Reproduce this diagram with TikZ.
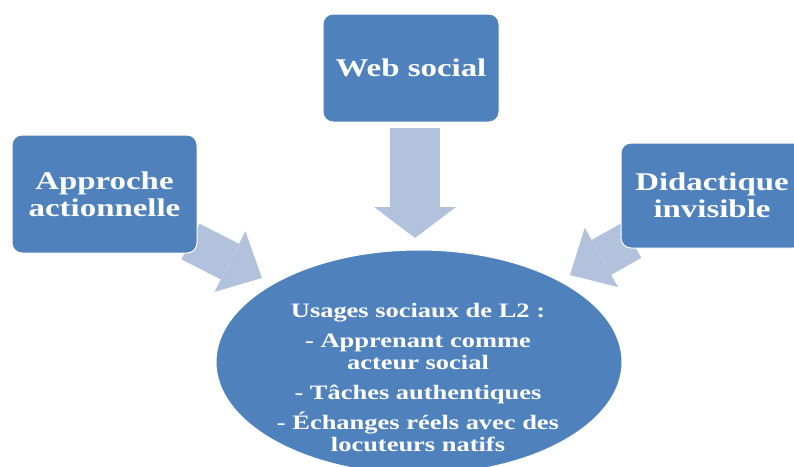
\documentclass[tikz,border=0pt]{standalone}
\usepackage{fontspec}
\usetikzlibrary{arrows.meta, shapes.geometric, backgrounds}
\newfontfamily\diagfont{Liberation Serif}[FakeStretch=1.29]
\definecolor{boxblue}{RGB}{79,129,189}
\definecolor{arrowblue}{RGB}{178,194,221}

\tikzset{
    sourcebox/.style = {rectangle, rounded corners = 10pt, fill = boxblue, draw = white, line width = 1pt,
        text = white, align = center, font = \diagfont\bfseries\fontsize{25.5}{27}\selectfont},
    bigarrow/.style = {draw = arrowblue, line width = 50pt,
        -{Triangle[length = 31pt 0 0, width = 82pt 0 0, line width = 0pt 0 0]}},
    sidearrow/.style = {draw = arrowblue, line width = 40pt,
        -{Triangle[length = 36pt 0 0, width = 68pt 0 0, line width = 0pt 0 0]}}
}

\begin{document}
\begin{tikzpicture}[x = 1pt, y = -1pt]
        \useasboundingbox (0, 0) rectangle (794, 466);

        % the three sources
        \node[sourcebox, minimum width = 176pt, minimum height = 108pt] (web) at (411, 68) {Web social};
        \node[sourcebox, minimum width = 185pt, minimum height = 118pt] (approche) at (104.5, 194) {Approche\\actionnelle};
        \node[sourcebox, minimum width = 182pt, minimum height = 105pt] (didactique) at (712, 195.5) {Didactique\\invisible};

        % the centre
        \node[ellipse, fill = boxblue, draw = white, line width = 1pt, minimum width = 406pt, minimum height = 224pt,
            inner sep = 0pt] (usages) at (419, 362) {};
        \node[text = white, align = center, font = \diagfont\bfseries\fontsize{20.5}{22}\selectfont] (usagestext) at (418, 378)
            {Usages sociaux de L2 :\\[8pt]
             - Apprenant comme\\acteur social\\[8pt]
             - Tâches authentiques\\[8pt]
             - Échanges réels avec des\\locuteurs natifs};

        \coordinate (webtip) at (415, 238);
        \coordinate (approchetip) at (262, 278);
        \coordinate (didactiquetip) at (570, 275);

        \begin{scope}[on background layer]
            \draw[bigarrow] ([xshift = 4pt, yshift = -5pt]web.south) -- (webtip);
            \draw[sidearrow] ([xshift = -7pt, yshift = 12pt]approche.south east) -- (approchetip);
            \draw[sidearrow] ([xshift = 11pt, yshift = 8pt]didactique.south west) -- (didactiquetip);
        \end{scope}
    \end{tikzpicture}
\end{document}
